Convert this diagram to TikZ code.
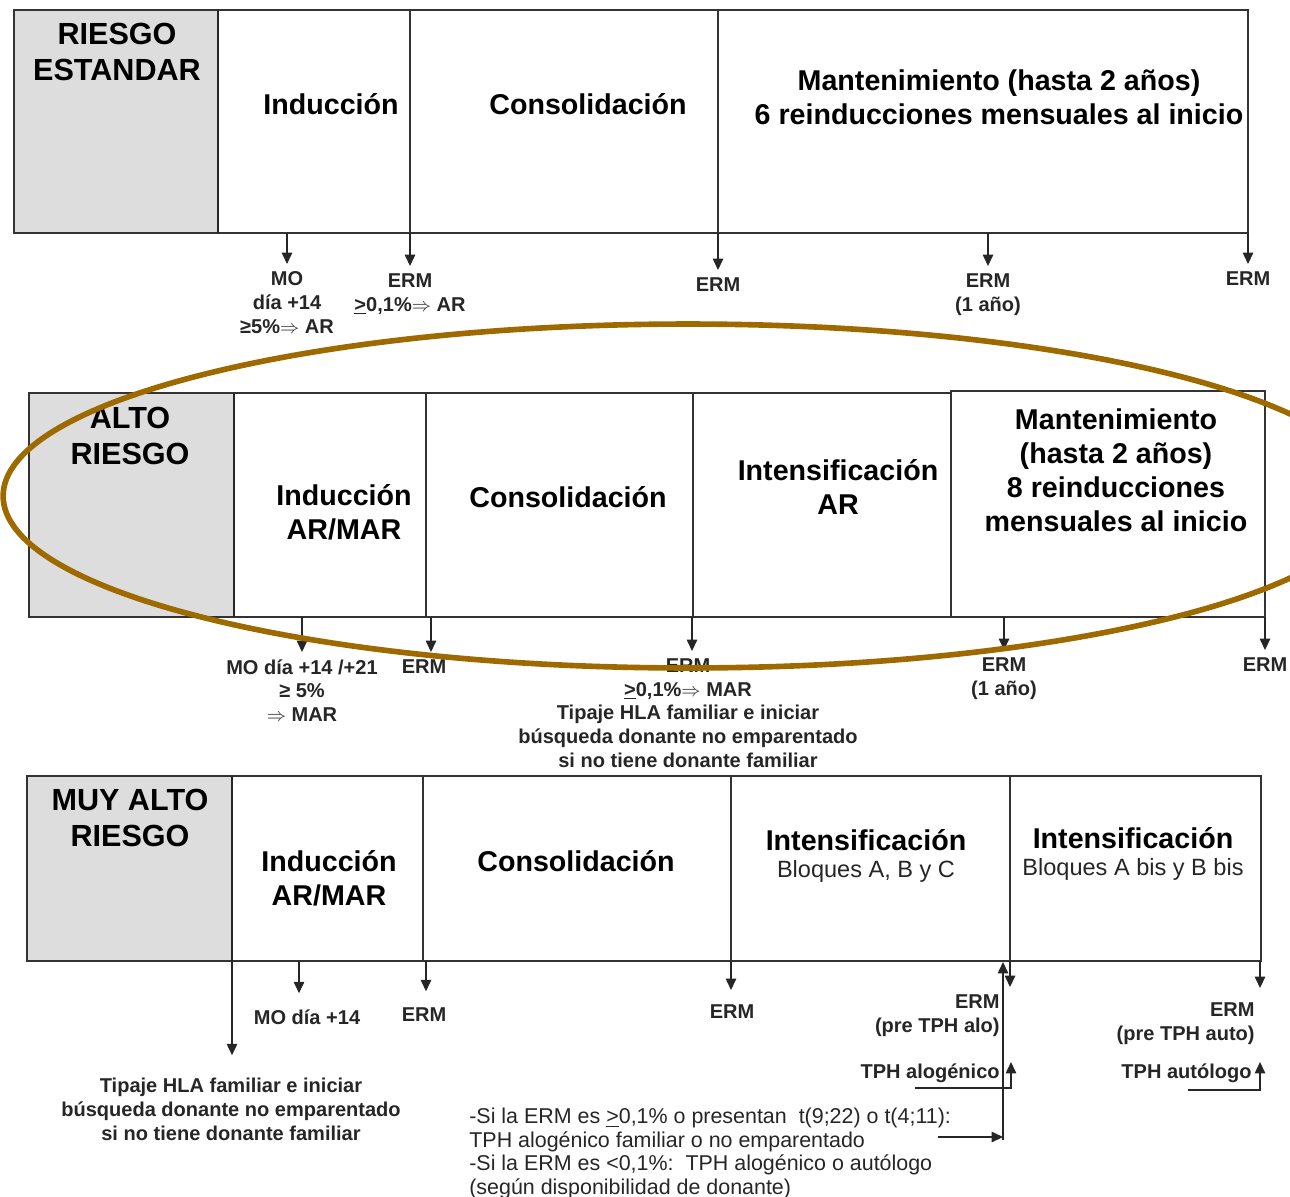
\documentclass[tikz,border=0pt]{standalone}
\usepackage{fontspec}
\setmainfont{Liberation Sans}
\usetikzlibrary{arrows.meta}

\definecolor{ovalgold}{RGB}{158,106,0}
\definecolor{riskgray}{RGB}{221,221,221}

\tikzset{
  cell/.style={draw=black!80, line width=0.8pt},
  riskline/.style={draw=black!85, line width=1.3pt},
  riskname/.style={font=\bfseries\fontsize{17.4}{20}\selectfont, align=center, inner sep=0pt},
  phase/.style={font=\bfseries\fontsize{16.3}{19.3}\selectfont, align=center, inner sep=0pt},
  blocks/.style={font=\fontsize{13.4}{16}\selectfont, inner sep=0pt, text=black!85},
  lab/.style={font=\bfseries\fontsize{11.4}{13.6}\selectfont, align=center, inner sep=4pt, text=black!85},
  note/.style={font=\fontsize{12.2}{13.3}\selectfont, align=left, inner sep=0pt, text=black!85},
  arr/.style={-{Triangle[width=6pt,length=6.5pt]}, line width=0.7pt, draw=black!85},
  oval/.style={draw=ovalgold, line width=3.2pt}
}

\begin{document}
\begin{tikzpicture}[x=0.02cm, y=-0.02cm]
  \useasboundingbox (0,0) rectangle (1290,1196);

  % riesgo estandar
  \fill[riskgray] (14,10) rectangle (218,233);
  \draw[cell] (14,10) rectangle (1248,233);
  \draw[cell] (410,10) -- (410,233);
  \draw[cell] (718,10) -- (718,233);
  \draw[riskline] (218,10) -- (218,233);

  \node[riskname] (r1risk) at (117,52) {RIESGO\\ESTANDAR};
  \node[phase] (r1ind) at (331,104) {Inducción};
  \node[phase] (r1cons) at (588,104) {Consolidación};
  \node[phase] (r1mant) at (999,97) {Mantenimiento (hasta 2 años)\\6 reinducciones mensuales al inicio};

  \coordinate (r1a) at (287,233);
  \coordinate (r1b) at (410,233);
  \coordinate (r1c) at (718,233);
  \coordinate (r1d) at (988,233);
  \coordinate (r1e) at (1248,233);

  \node[lab, anchor=north] (r1mo) at (287,264) {MO\\día +14\\≥5\%$\Rightarrow$ AR};
  \node[lab, anchor=north] (r1erma) at (410,266) {ERM\\\underline{>}0,1\%$\Rightarrow$ AR};
  \node[lab, anchor=north] (r1ermb) at (718,270) {ERM};
  \node[lab, anchor=north] (r1ermc) at (988,266) {ERM\\(1 año)};
  \node[lab, anchor=north] (r1ermd) at (1248,264) {ERM};

  \draw[arr] (r1a) -- (r1a |- r1mo.north);
  \draw[arr] (r1b) -- (r1b |- r1erma.north);
  \draw[arr] (r1c) -- (r1c |- r1ermb.north);
  \draw[arr] (r1d) -- (r1d |- r1ermc.north);
  \draw[arr] (r1e) -- (r1e |- r1ermd.north);

  % alto riesgo
  \fill[riskgray] (29,393) rectangle (234,617);
  \draw[cell] (29,393) rectangle (951,617);
  \draw[cell] (951,391) rectangle (1265,617);
  \draw[cell] (426,393) -- (426,617);
  \draw[cell] (693,393) -- (693,617);
  \draw[riskline] (234,393) -- (234,617);

  \node[riskname] (r2risk) at (130,436) {ALTO\\RIESGO};
  \node[phase] (r2ind) at (344,512) {Inducción\\AR/MAR};
  \node[phase] (r2cons) at (568,497) {Consolidación};
  \node[phase] (r2int) at (838,487) {Intensificación\\AR};
  \node[phase] (r2mant) at (1116,470) {Mantenimiento\\(hasta 2 años)\\8 reinducciones\\mensuales al inicio};

  \coordinate (r2a) at (302,617);
  \coordinate (r2b) at (431,617);
  \coordinate (r2c) at (692,617);
  \coordinate (r2d) at (1004,617);
  \coordinate (r2e) at (1265,617);

  \node[lab, anchor=north] (r2mo) at (302,652) {MO día +14 /+21\\≥ 5\%\\$\Rightarrow$ MAR};
  \node[lab, anchor=north] (r2erma) at (424,652) {ERM};
  \node[lab, anchor=north] (r2ermb) at (688,651) {ERM\\\underline{>}0,1\%$\Rightarrow$ MAR\\Tipaje HLA familiar e iniciar\\búsqueda donante no emparentado\\si no tiene donante familiar};
  \node[lab, anchor=north] (r2ermc) at (1004,650) {ERM\\(1 año)};
  \node[lab, anchor=north] (r2ermd) at (1265,650) {ERM};

  \draw[arr] (r2a) -- (r2a |- r2mo.north);
  \draw[arr] (r2b) -- (r2b |- r2erma.north);
  \draw[arr] (r2c) -- (r2c |- r2ermb.north);
  \draw[arr] (r2d) -- (r2d |- r2ermc.north);
  \draw[arr] (r2e) -- (r2e |- r2ermd.north);

  % muy alto riesgo
  \fill[riskgray] (27,776) rectangle (232,961);
  \draw[cell] (27,776) rectangle (1261,961);
  \draw[cell] (423,776) -- (423,961);
  \draw[cell] (731,776) -- (731,961);
  \draw[cell] (1010,776) -- (1010,961);
  \draw[riskline] (232,776) -- (232,961);

  \node[riskname] (r3risk) at (130,818) {MUY ALTO\\RIESGO};
  \node[phase] (r3ind) at (329,878) {Inducción\\AR/MAR};
  \node[phase] (r3cons) at (576,861) {Consolidación};
  \node[phase] (r3int) at (866,840) {Intensificación};
  \node[blocks] (r3intb) at (866,871) {Bloques A, B y C};
  \node[phase] (r3bis) at (1133,838) {Intensificación};
  \node[blocks] (r3bisb) at (1133,869) {Bloques A bis y B bis};

  \coordinate (r3a) at (232,961);
  \coordinate (r3b) at (299,961);
  \coordinate (r3c) at (426,961);
  \coordinate (r3d) at (731,961);
  \coordinate (r3e) at (1010,961);
  \coordinate (r3f) at (1260,961);

  \node[lab, anchor=north] (r3hla) at (231,1071) {Tipaje HLA familiar e iniciar\\búsqueda donante no emparentado\\si no tiene donante familiar};
  \node[lab, anchor=north] (r3mo) at (307,1002) {MO día +14};
  \node[lab, anchor=north] (r3erma) at (424,1000) {ERM};
  \node[lab, anchor=north] (r3ermb) at (732,997) {ERM};
  \node[lab, align=right, anchor=north east] (r3alo) at (1007,987) {ERM\\(pre TPH alo)};
  \node[lab, align=right, anchor=north east] (r3auto) at (1262,995) {ERM\\(pre TPH auto)};
  \node[lab, anchor=east] (r3tphalo) at (1007,1073) {TPH alogénico};
  \node[lab, anchor=east] (r3tphauto) at (1259,1073) {TPH autólogo};
  \node[note, anchor=north west] (r3note) at (469,1108) {-Si la ERM es \underline{>}0,1\% o presentan\ \ t(9;22) o t(4;11):\\TPH alogénico familiar o no emparentado\\-Si la ERM es <0,1\%:\ \ TPH alogénico o autólogo\\(según disponibilidad de donante)};

  \draw[arr, shorten >=9pt] (r3a) -- (r3a |- r3hla.north);
  \draw[arr, shorten >=5pt] (r3b) -- (r3b |- r3mo.north);
  \draw[arr, shorten >=5pt] (r3c) -- (r3c |- r3erma.north);
  \draw[arr, shorten >=4pt] (r3d) -- (r3d |- r3ermb.north);
  \draw[arr] (r3e) -- (r3e |- r3alo.north);
  \coordinate (r3ftip) at (1260,988);
  \draw[arr] (r3f) -- (r3ftip);

  \coordinate (r3upfoot) at (1003,1140);
  \coordinate (r3uptip) at (1003,962);
  \draw[arr] (r3upfoot) -- (r3uptip);
  \coordinate (r3notearr) at (938,1137);
  \draw[arr] (r3notearr) -- (r3notearr -| r3upfoot);

  \coordinate (r3alobase) at (915,1088);
  \coordinate (r3alotip) at (1011,1062);
  \draw[arr] (r3alobase) -| (r3alotip);
  \coordinate (r3autobase) at (1188,1090);
  \coordinate (r3autotip) at (1260,1062);
  \draw[arr] (r3autobase) -| (r3autotip);

  % marca sobre alto riesgo
  \begin{scope}
    \clip (0,0) rectangle (1290,1196);
    \draw[oval] (688,496) ellipse [x radius=13.7cm, y radius=3.44cm];
  \end{scope}
\end{tikzpicture}
\end{document}
